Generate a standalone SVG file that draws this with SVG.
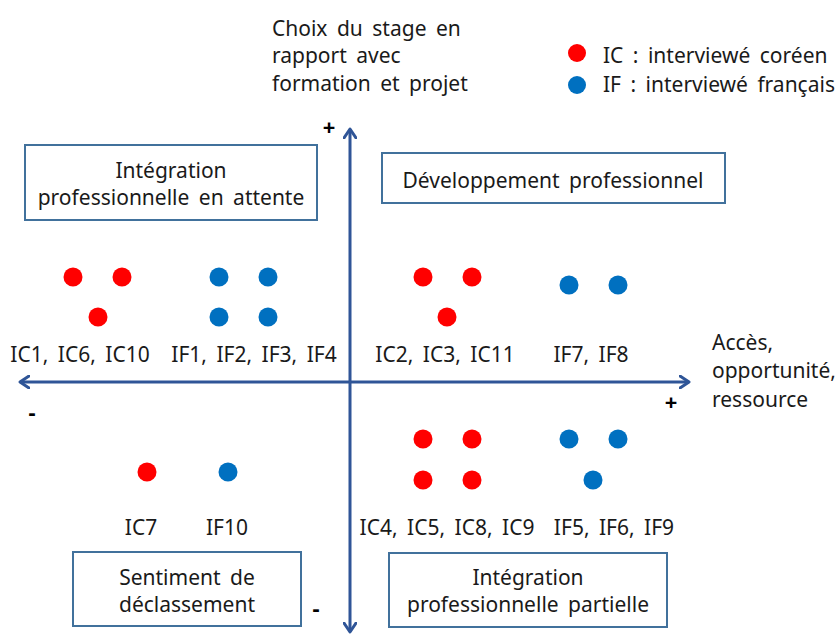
<svg xmlns="http://www.w3.org/2000/svg" width="837" height="635" viewBox="0 0 837 635">
<defs>
<style>
text{font-family:"Noto Sans","Open Sans","Liberation Sans",sans-serif;font-size:21px;word-spacing:4px;fill:#1a1a1a}
.c{text-anchor:middle}
.box{fill:#fff;stroke:#41719C;stroke-width:2}
.axis{stroke:#2F5597;stroke-width:3;fill:none}
.ic{fill:#FF0000}
.if{fill:#0070C0}
.sign{font-size:22px;font-weight:bold;fill:#000}
</style>
<marker id="arr" viewBox="0 0 12 14" refX="10" refY="7" markerWidth="12" markerHeight="14" markerUnits="userSpaceOnUse" orient="auto-start-reverse">
<path d="M1,1 L10,7 L1,13" fill="none" stroke="#2F5597" stroke-width="3" stroke-linecap="round" stroke-linejoin="round"/>
</marker>
</defs>
<rect width="837" height="635" fill="#fff"/>
<g id="connectors">
<line class="axis" x1="20" y1="382" x2="689" y2="382" marker-start="url(#arr)" marker-end="url(#arr)"/>
<line class="axis" x1="350" y1="129" x2="350" y2="632" marker-start="url(#arr)" marker-end="url(#arr)"/>
</g>
<g id="axis-labels">
<text x="272" y="36">Choix du stage en</text>
<text x="272" y="63">rapport avec</text>
<text x="272" y="91">formation et projet</text>
<text x="712" y="350">Accès,</text>
<text x="712" y="378">opportunité,</text>
<text x="712" y="407">ressource</text>
<text class="sign c" x="329" y="135">+</text>
<text class="sign c" x="671" y="410">+</text>
<text class="sign c" x="32" y="420">-</text>
<text class="sign c" x="316" y="616">-</text>
</g>
<g id="legend">
<circle class="ic" cx="577" cy="53" r="9"/>
<text x="603" y="63">IC : interviewé coréen</text>
<circle class="if" cx="577" cy="85" r="9"/>
<text x="603" y="92">IF : interviewé français</text>
</g>
<g id="box-attente">
<rect class="box" x="25" y="145" width="292" height="75"/>
<text class="c" x="171" y="178">Intégration</text>
<text class="c" x="171" y="205">professionnelle en attente</text>
</g>
<g id="box-developpement">
<rect class="box" x="382" y="153" width="343" height="50"/>
<text class="c" x="553" y="188">Développement professionnel</text>
</g>
<g id="box-declassement">
<rect class="box" x="73" y="552" width="228" height="74"/>
<text class="c" x="187" y="585">Sentiment de</text>
<text class="c" x="187" y="612">déclassement</text>
</g>
<g id="box-partielle">
<rect class="box" x="389" y="553" width="278" height="74"/>
<text class="c" x="528" y="585">Intégration</text>
<text class="c" x="528" y="612">professionnelle partielle</text>
</g>
<g id="group-ic-q1">
<circle class="ic" cx="73" cy="277" r="9.5"/>
<circle class="ic" cx="122" cy="277" r="9.5"/>
<circle class="ic" cx="98" cy="317" r="9.5"/>
<text class="c" x="80" y="362">IC1, IC6, IC10</text>
</g>
<g id="group-if-q1">
<circle class="if" cx="219" cy="277" r="9.5"/>
<circle class="if" cx="268" cy="277" r="9.5"/>
<circle class="if" cx="219" cy="317" r="9.5"/>
<circle class="if" cx="268" cy="317" r="9.5"/>
<text class="c" x="254" y="362">IF1, IF2, IF3, IF4</text>
</g>
<g id="group-ic-q2">
<circle class="ic" cx="423" cy="277" r="9.5"/>
<circle class="ic" cx="472" cy="277" r="9.5"/>
<circle class="ic" cx="447" cy="317" r="9.5"/>
<text class="c" x="445" y="362">IC2, IC3, IC11</text>
</g>
<g id="group-if-q2">
<circle class="if" cx="569" cy="285" r="9.5"/>
<circle class="if" cx="618" cy="285" r="9.5"/>
<text class="c" x="591" y="362">IF7, IF8</text>
</g>
<g id="group-ic-q3">
<circle class="ic" cx="147" cy="472" r="9.5"/>
<text class="c" x="141" y="535">IC7</text>
</g>
<g id="group-if-q3">
<circle class="if" cx="228" cy="472" r="9.5"/>
<text class="c" x="227" y="535">IF10</text>
</g>
<g id="group-ic-q4">
<circle class="ic" cx="423" cy="439" r="9.5"/>
<circle class="ic" cx="472" cy="439" r="9.5"/>
<circle class="ic" cx="423" cy="480" r="9.5"/>
<circle class="ic" cx="472" cy="480" r="9.5"/>
<text class="c" x="447" y="535">IC4, IC5, IC8, IC9</text>
</g>
<g id="group-if-q4">
<circle class="if" cx="569" cy="439" r="9.5"/>
<circle class="if" cx="618" cy="439" r="9.5"/>
<circle class="if" cx="593" cy="480" r="9.5"/>
<text class="c" x="614" y="535">IF5, IF6, IF9</text>
</g>
</svg>
